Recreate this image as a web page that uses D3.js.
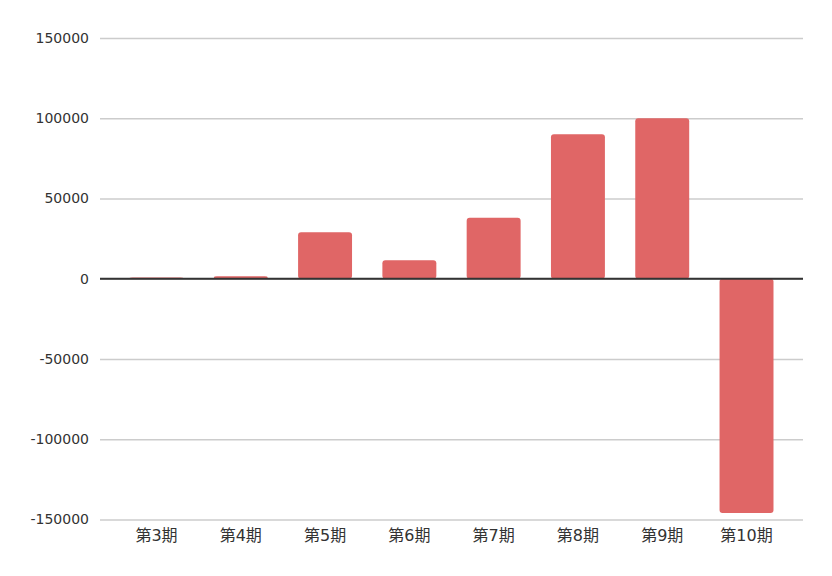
<!DOCTYPE html>
<html><head><meta charset="utf-8">
<script src="https://cdn.jsdelivr.net/npm/d3@7/dist/d3.min.js"></script>
<style>body{margin:0;background:#fff}svg text{font-family:"DejaVu Sans","Noto Sans CJK JP",sans-serif;fill:#333}</style>
</head><body><svg id="c" width="832" height="576"></svg>
<script>
const categories = ["第3期","第4期","第5期","第6期","第7期","第8期","第9期","第10期"];
const values = [800, 1500, 29000, 11500, 38000, 90000, 100000, -146000];
const yTicks = [-150000, -100000, -50000, 0, 50000, 100000, 150000];

(function(){
const svg = d3.select("#c");
const mLeft = 100, mRight = 803, mTop = 38, mBottom = 519.5;
const x = d3.scaleBand().domain(categories).range([mLeft, mRight]).paddingInner(0.36).paddingOuter(0.35);
const y = d3.scaleLinear().domain([-150000, 150000]).range([mBottom, mTop]);

const yAxis = d3.axisLeft(y).tickValues(yTicks).tickSize(-(mRight-mLeft)).tickPadding(11).tickFormat(d => String(d));
const gy = svg.append("g").attr("transform", `translate(${mLeft},0)`).call(yAxis);
gy.select(".domain").remove();
gy.selectAll(".tick line").attr("stroke", "#cccccc").attr("stroke-width", 1.5);
gy.selectAll(".tick text").style("font-size", "14px");

svg.append("g").selectAll("rect").data(values).join("rect")
  .attr("x", (d,i) => x(categories[i]))
  .attr("width", x.bandwidth())
  .attr("y", d => y(Math.max(0,d)))
  .attr("height", d => Math.abs(y(d) - y(0)))
  .attr("rx", 3).attr("ry", 3)
  .attr("fill", "#e06666");

svg.append("line").attr("x1", mLeft).attr("x2", mRight).attr("y1", y(0)).attr("y2", y(0))
  .attr("stroke", "#333").attr("stroke-width", 2);

const xAxis = d3.axisBottom(x).tickSize(0).tickPadding(10);
const gx = svg.append("g").attr("transform", `translate(0,${mBottom})`).call(xAxis);
gx.select(".domain").remove();
gx.selectAll(".tick text").style("font-size", "16px");
})();
</script></body></html>
